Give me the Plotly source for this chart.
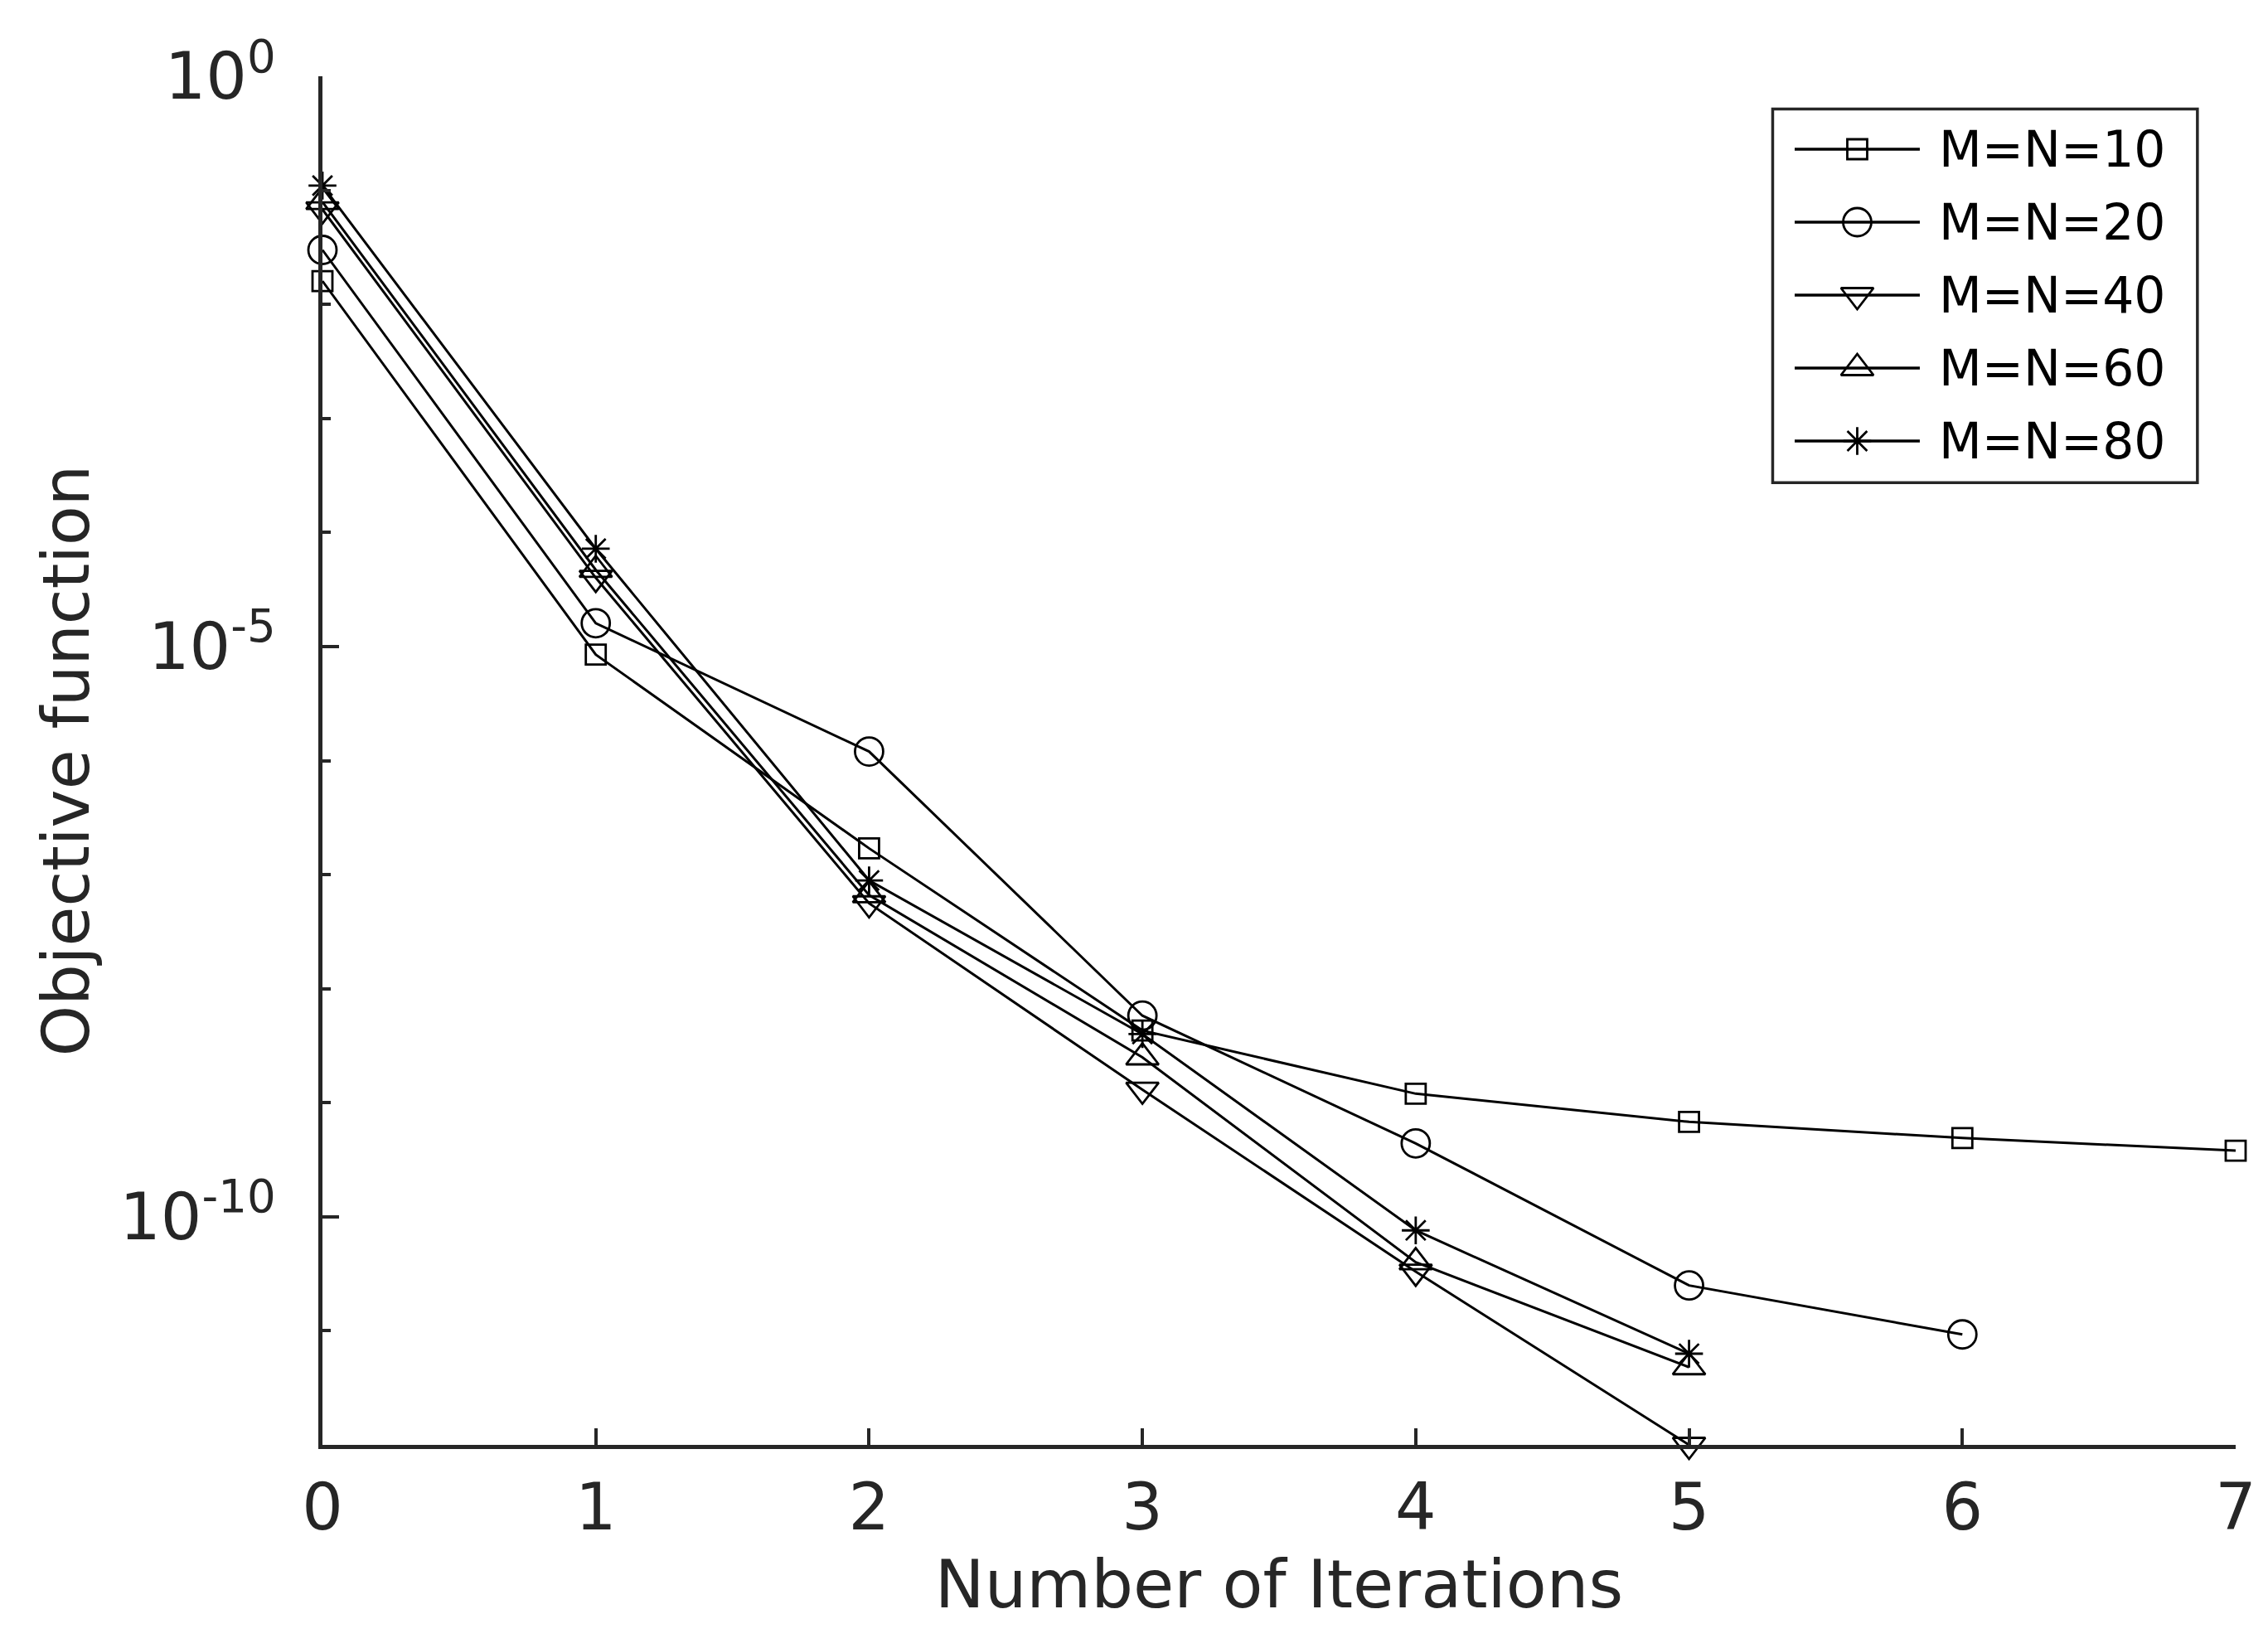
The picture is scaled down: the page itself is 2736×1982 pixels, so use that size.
import plotly.graph_objects as go

# ---------- data ----------
iterations = [0, 1, 2, 3, 4, 5, 6, 7]
labels = ["M=N=10", "M=N=20", "M=N=40", "M=N=60", "M=N=80"]

obj_10 = [1.6e-2, 8.5e-6, 1.7e-7, 4.3e-9, 1.2e-9, 6.8e-10, 4.9e-10, 3.8e-10]
obj_20 = [3.0e-2, 1.6e-5, 1.2e-6, 5.8e-9, 4.4e-10, 2.5e-11, 9.3e-12]
obj_40 = [6.8e-2, 4.0e-5, 5.6e-8, 1.3e-9, 3.3e-11, 1.0e-12]
obj_60 = [7.9e-2, 4.7e-5, 6.6e-8, 2.5e-9, 4.0e-11, 4.8e-12]
obj_80 = [1.1e-1, 7.2e-5, 8.9e-8, 4.0e-9, 7.6e-11, 6.3e-12]

y_major = [1e0, 1e-5, 1e-10]
y_major_text = ["10<sup>0</sup>", "10<sup>-5</sup>", "10<sup>-10</sup>"]
y_minor = [1e-1, 1e-2, 1e-3, 1e-4, 1e-6, 1e-7, 1e-8, 1e-9, 1e-11]

# ---------- styling ----------
FONT = "DejaVu Sans"
INK = "#262626"
symbols = ["square-open", "circle-open", "triangle-down-open",
           "triangle-up-open", "asterisk-open"]
sizes = [24, 34, 34, 34, 28]
series = [obj_10, obj_20, obj_40, obj_60, obj_80]

fig = go.Figure()

for lbl, ys, sym, sz in zip(labels, series, symbols, sizes):
    fig.add_trace(go.Scatter(
        x=iterations[:len(ys)], y=ys, mode="lines+markers", name=lbl,
        line=dict(color="black", width=3),
        marker=dict(symbol=sym, size=sz, color="black",
                    line=dict(color="black", width=2.8)),
        cliponaxis=False, showlegend=False,
    ))

# ---------- hand-made legend (long line samples like MATLAB) ----------
lg_x0, lg_x1 = 0.758, 0.980
lg_y0, lg_y1 = 0.703, 0.976
row_top, row_step = 0.9467, 0.0533
line_a, line_b = 0.7695, 0.8349
text_x = 0.8440

# box sits under the legend samples (plot background is white anyway)
fig.add_shape(type="rect", xref="paper", yref="paper",
              x0=lg_x0, x1=lg_x1, y0=lg_y0, y1=lg_y1,
              line=dict(color=INK, width=3.5), fillcolor="white", layer="below")

for i, (lbl, sym, sz) in enumerate(zip(labels, symbols, sizes)):
    yy = row_top - i * row_step
    fig.add_shape(type="line", xref="paper", yref="paper",
                  x0=line_a, x1=line_b, y0=yy, y1=yy,
                  line=dict(color="black", width=3.5), layer="below")
    fig.add_trace(go.Scatter(
        x=[(line_a + line_b) / 2], y=[yy], xaxis="x2", yaxis="y2",
        mode="markers", showlegend=False, hoverinfo="skip",
        marker=dict(symbol=sym, size=sz, color="black",
                    line=dict(color="black", width=2.8)),
    ))
    fig.add_annotation(xref="paper", yref="paper", x=text_x, y=yy,
                       xanchor="left", yanchor="middle", showarrow=False,
                       text=lbl, font=dict(family=FONT, size=60, color="black"))

# ---------- axes ----------
fig.update_layout(
    width=2736, height=1982, autosize=False,
    margin=dict(l=381, r=47, t=84, b=247),
    plot_bgcolor="white", paper_bgcolor="white",
    font=dict(family=FONT, color=INK),
    showlegend=False,
    xaxis=dict(
        range=[0, 7], tickmode="array", tickvals=iterations,
        ticks="inside", ticklen=20, tickwidth=4, tickcolor=INK,
        showline=True, linewidth=4.5, linecolor=INK, mirror=False,
        showgrid=False, zeroline=False,
        tickfont=dict(family=FONT, size=78, color=INK),
        ticklabelstandoff=4,
        title=dict(text="Number of Iterations", standoff=22,
                   font=dict(family=FONT, size=80, color=INK)),
    ),
    yaxis=dict(
        type="log", range=[-12, 0],
        tickmode="array", tickvals=y_major, ticktext=y_major_text,
        ticks="inside", ticklen=20, tickwidth=4, tickcolor=INK,
        minor=dict(tickmode="array", tickvals=y_minor, ticks="inside",
                   ticklen=10, tickwidth=3.5, tickcolor=INK, showgrid=False),
        showline=True, linewidth=4.5, linecolor=INK, mirror=False,
        showgrid=False, zeroline=False,
        tickfont=dict(family=FONT, size=78, color=INK),
        ticklabelstandoff=36,
        title=dict(text="Objective function", standoff=12,
                   font=dict(family=FONT, size=78, color=INK)),
    ),
    xaxis2=dict(overlaying="x", anchor="y2", range=[0, 1], visible=False),
    yaxis2=dict(overlaying="y", anchor="x2", range=[0, 1], visible=False),
)

fig.write_html("out.html")
